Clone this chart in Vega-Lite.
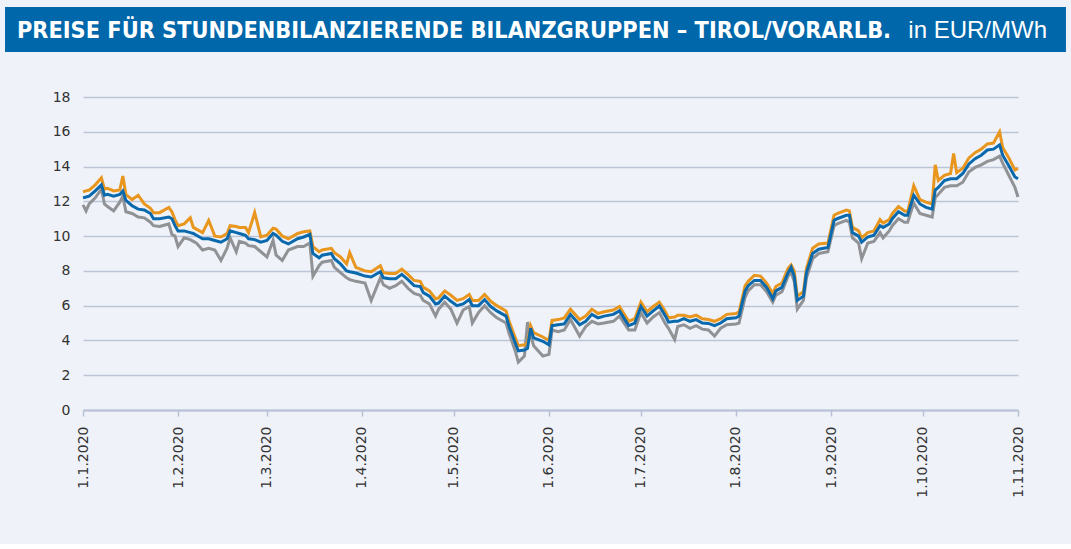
{
  "$schema": "https://vega.github.io/schema/vega-lite/v6.json",
  "background": "#EFF2F8",
  "padding": {"left": 5, "top": 7, "right": 5, "bottom": 46},
  "spacing": 38,
  "config": {
    "view": {"stroke": null},
    "axis": {"labelFont": "DejaVu Sans", "labelFontSize": 14, "labelColor": "#333333", "titleFont": "DejaVu Sans"}
  },
  "vconcat": [
    {
      "width": 935,
      "height": 45,
      "data": {"values": [{"titel": "PREISE FÜR STUNDENBILANZIERENDE BILANZGRUPPEN – TIROL/VORARLB.", "einheit": "in EUR/MWh"}]},
      "layer": [
        {
          "mark": {"type": "rect", "color": "#0067AA"},
          "encoding": {
            "x": {"datum": -0.0834, "type": "quantitative", "scale": {"domain": [0, 1], "nice": false, "zero": false}, "axis": null},
            "x2": {"datum": 1.0513}
          }
        },
        {
          "mark": {"type": "text", "align": "left", "baseline": "middle", "dy": 1, "font": "DejaVu Sans Condensed", "fontWeight": "bold", "fontSize": 23.3, "color": "white"},
          "encoding": {
            "x": {"datum": -0.0706, "type": "quantitative"},
            "text": {"field": "titel"}
          }
        },
        {
          "mark": {"type": "text", "align": "right", "baseline": "middle", "dy": 1, "font": "Liberation Sans", "fontSize": 24, "color": "white"},
          "encoding": {
            "x": {"datum": 1.031, "type": "quantitative"},
            "text": {"field": "einheit"}
          }
        }
      ]
    },
    {
      "width": 935,
      "height": 313,
      "data": {"values": [
        {"d":"2020-01-01","mittel":12.2,"hoch":12.55,"niedrig":11.8},
        {"d":"2020-01-02","mittel":12.25,"hoch":12.6,"niedrig":11.45},
        {"d":"2020-01-03","mittel":12.3,"hoch":12.65,"niedrig":11.85},
        {"d":"2020-01-05","mittel":12.6,"hoch":12.95,"niedrig":12.2},
        {"d":"2020-01-07","mittel":12.95,"hoch":13.35,"niedrig":12.7},
        {"d":"2020-01-08","mittel":12.35,"hoch":12.7,"niedrig":11.85},
        {"d":"2020-01-09","mittel":12.4,"hoch":12.75,"niedrig":11.7},
        {"d":"2020-01-11","mittel":12.3,"hoch":12.6,"niedrig":11.45},
        {"d":"2020-01-13","mittel":12.4,"hoch":12.65,"niedrig":11.95},
        {"d":"2020-01-14","mittel":12.6,"hoch":13.45,"niedrig":12.3},
        {"d":"2020-01-15","mittel":12.05,"hoch":12.4,"niedrig":11.4},
        {"d":"2020-01-17","mittel":11.75,"hoch":12.1,"niedrig":11.3},
        {"d":"2020-01-19","mittel":11.55,"hoch":12.35,"niedrig":11.1},
        {"d":"2020-01-21","mittel":11.5,"hoch":11.85,"niedrig":11.05},
        {"d":"2020-01-23","mittel":11.3,"hoch":11.6,"niedrig":10.8},
        {"d":"2020-01-24","mittel":11.0,"hoch":11.35,"niedrig":10.6},
        {"d":"2020-01-26","mittel":11.0,"hoch":11.35,"niedrig":10.55},
        {"d":"2020-01-29","mittel":11.1,"hoch":11.65,"niedrig":10.7},
        {"d":"2020-01-30","mittel":11.0,"hoch":11.4,"niedrig":10.1},
        {"d":"2020-01-31","mittel":10.6,"hoch":10.95,"niedrig":10.0},
        {"d":"2020-02-01","mittel":10.3,"hoch":10.6,"niedrig":9.4},
        {"d":"2020-02-03","mittel":10.3,"hoch":10.7,"niedrig":9.9},
        {"d":"2020-02-05","mittel":10.2,"hoch":11.05,"niedrig":9.8},
        {"d":"2020-02-06","mittel":10.15,"hoch":10.5,"niedrig":9.7},
        {"d":"2020-02-07","mittel":10.05,"hoch":10.4,"niedrig":9.6},
        {"d":"2020-02-09","mittel":9.85,"hoch":10.2,"niedrig":9.2},
        {"d":"2020-02-11","mittel":9.85,"hoch":10.9,"niedrig":9.3},
        {"d":"2020-02-13","mittel":9.75,"hoch":10.0,"niedrig":9.2},
        {"d":"2020-02-15","mittel":9.65,"hoch":9.95,"niedrig":8.6},
        {"d":"2020-02-17","mittel":9.85,"hoch":10.15,"niedrig":9.3},
        {"d":"2020-02-18","mittel":10.3,"hoch":10.6,"niedrig":9.9},
        {"d":"2020-02-20","mittel":10.2,"hoch":10.55,"niedrig":9.1},
        {"d":"2020-02-21","mittel":10.15,"hoch":10.5,"niedrig":9.7},
        {"d":"2020-02-23","mittel":10.05,"hoch":10.5,"niedrig":9.6},
        {"d":"2020-02-24","mittel":9.85,"hoch":10.2,"niedrig":9.45},
        {"d":"2020-02-26","mittel":9.8,"hoch":11.35,"niedrig":9.4},
        {"d":"2020-02-28","mittel":9.65,"hoch":9.95,"niedrig":9.1},
        {"d":"2020-03-01","mittel":9.75,"hoch":10.05,"niedrig":8.8},
        {"d":"2020-03-03","mittel":10.15,"hoch":10.45,"niedrig":9.75},
        {"d":"2020-03-04","mittel":10.05,"hoch":10.4,"niedrig":8.9},
        {"d":"2020-03-06","mittel":9.7,"hoch":10.0,"niedrig":8.6},
        {"d":"2020-03-08","mittel":9.55,"hoch":9.85,"niedrig":9.2},
        {"d":"2020-03-11","mittel":9.85,"hoch":10.15,"niedrig":9.4},
        {"d":"2020-03-13","mittel":9.95,"hoch":10.25,"niedrig":9.4},
        {"d":"2020-03-15","mittel":10.1,"hoch":10.3,"niedrig":9.6},
        {"d":"2020-03-16","mittel":9.0,"hoch":9.4,"niedrig":7.7},
        {"d":"2020-03-18","mittel":8.75,"hoch":9.1,"niedrig":8.3},
        {"d":"2020-03-19","mittel":8.9,"hoch":9.2,"niedrig":8.5},
        {"d":"2020-03-22","mittel":9.0,"hoch":9.3,"niedrig":8.6},
        {"d":"2020-03-23","mittel":8.7,"hoch":9.05,"niedrig":8.2},
        {"d":"2020-03-25","mittel":8.4,"hoch":8.8,"niedrig":7.9},
        {"d":"2020-03-27","mittel":8.0,"hoch":8.4,"niedrig":7.6},
        {"d":"2020-03-28","mittel":7.95,"hoch":9.05,"niedrig":7.5},
        {"d":"2020-03-30","mittel":7.88,"hoch":8.2,"niedrig":7.4},
        {"d":"2020-04-02","mittel":7.7,"hoch":8.0,"niedrig":7.3},
        {"d":"2020-04-04","mittel":7.65,"hoch":7.95,"niedrig":6.3},
        {"d":"2020-04-07","mittel":7.95,"hoch":8.3,"niedrig":7.6},
        {"d":"2020-04-08","mittel":7.6,"hoch":7.9,"niedrig":7.2},
        {"d":"2020-04-10","mittel":7.55,"hoch":7.85,"niedrig":7.0},
        {"d":"2020-04-12","mittel":7.55,"hoch":7.85,"niedrig":7.15},
        {"d":"2020-04-14","mittel":7.8,"hoch":8.1,"niedrig":7.4},
        {"d":"2020-04-16","mittel":7.5,"hoch":7.8,"niedrig":7.0},
        {"d":"2020-04-18","mittel":7.15,"hoch":7.45,"niedrig":6.7},
        {"d":"2020-04-20","mittel":7.1,"hoch":7.4,"niedrig":6.6},
        {"d":"2020-04-21","mittel":6.75,"hoch":7.05,"niedrig":6.3},
        {"d":"2020-04-23","mittel":6.55,"hoch":6.85,"niedrig":6.1},
        {"d":"2020-04-25","mittel":6.1,"hoch":6.4,"niedrig":5.4},
        {"d":"2020-04-26","mittel":6.15,"hoch":6.45,"niedrig":5.8},
        {"d":"2020-04-28","mittel":6.55,"hoch":6.85,"niedrig":6.2},
        {"d":"2020-04-30","mittel":6.25,"hoch":6.6,"niedrig":5.8},
        {"d":"2020-05-02","mittel":6.0,"hoch":6.3,"niedrig":5.0},
        {"d":"2020-05-04","mittel":6.1,"hoch":6.4,"niedrig":5.75},
        {"d":"2020-05-06","mittel":6.35,"hoch":6.65,"niedrig":5.95},
        {"d":"2020-05-07","mittel":6.0,"hoch":6.3,"niedrig":5.0},
        {"d":"2020-05-09","mittel":6.0,"hoch":6.3,"niedrig":5.6},
        {"d":"2020-05-11","mittel":6.35,"hoch":6.65,"niedrig":6.0},
        {"d":"2020-05-13","mittel":5.95,"hoch":6.25,"niedrig":5.6},
        {"d":"2020-05-15","mittel":5.7,"hoch":6.0,"niedrig":5.3},
        {"d":"2020-05-18","mittel":5.4,"hoch":5.7,"niedrig":5.0},
        {"d":"2020-05-19","mittel":4.8,"hoch":5.1,"niedrig":4.4},
        {"d":"2020-05-21","mittel":3.85,"hoch":4.15,"niedrig":3.4},
        {"d":"2020-05-22","mittel":3.4,"hoch":3.7,"niedrig":2.75},
        {"d":"2020-05-24","mittel":3.45,"hoch":3.75,"niedrig":3.1},
        {"d":"2020-05-25","mittel":3.55,"hoch":3.85,"niedrig":5.05},
        {"d":"2020-05-26","mittel":4.7,"hoch":4.85,"niedrig":4.3},
        {"d":"2020-05-27","mittel":4.15,"hoch":4.45,"niedrig":3.7},
        {"d":"2020-05-30","mittel":3.95,"hoch":4.2,"niedrig":3.1},
        {"d":"2020-06-01","mittel":3.75,"hoch":4.0,"niedrig":3.2},
        {"d":"2020-06-02","mittel":4.85,"hoch":5.15,"niedrig":4.6},
        {"d":"2020-06-04","mittel":4.9,"hoch":5.2,"niedrig":4.5},
        {"d":"2020-06-06","mittel":4.95,"hoch":5.3,"niedrig":4.6},
        {"d":"2020-06-08","mittel":5.5,"hoch":5.8,"niedrig":5.2},
        {"d":"2020-06-11","mittel":4.9,"hoch":5.2,"niedrig":4.25},
        {"d":"2020-06-13","mittel":5.1,"hoch":5.4,"niedrig":4.8},
        {"d":"2020-06-15","mittel":5.5,"hoch":5.8,"niedrig":5.1},
        {"d":"2020-06-17","mittel":5.3,"hoch":5.55,"niedrig":4.95},
        {"d":"2020-06-19","mittel":5.4,"hoch":5.65,"niedrig":5.0},
        {"d":"2020-06-22","mittel":5.5,"hoch":5.75,"niedrig":5.1},
        {"d":"2020-06-24","mittel":5.7,"hoch":5.95,"niedrig":5.4},
        {"d":"2020-06-27","mittel":4.85,"hoch":5.1,"niedrig":4.6},
        {"d":"2020-06-29","mittel":5.0,"hoch":5.25,"niedrig":4.6},
        {"d":"2020-07-01","mittel":5.95,"hoch":6.2,"niedrig":5.6},
        {"d":"2020-07-03","mittel":5.4,"hoch":5.65,"niedrig":5.0},
        {"d":"2020-07-05","mittel":5.7,"hoch":5.95,"niedrig":5.35},
        {"d":"2020-07-07","mittel":5.98,"hoch":6.2,"niedrig":5.6},
        {"d":"2020-07-09","mittel":5.4,"hoch":5.65,"niedrig":4.95},
        {"d":"2020-07-10","mittel":5.05,"hoch":5.3,"niedrig":4.7},
        {"d":"2020-07-12","mittel":5.1,"hoch":5.35,"niedrig":4.05},
        {"d":"2020-07-13","mittel":5.1,"hoch":5.45,"niedrig":4.8},
        {"d":"2020-07-15","mittel":5.25,"hoch":5.45,"niedrig":4.9},
        {"d":"2020-07-17","mittel":5.1,"hoch":5.35,"niedrig":4.7},
        {"d":"2020-07-19","mittel":5.2,"hoch":5.45,"niedrig":4.85},
        {"d":"2020-07-21","mittel":5.0,"hoch":5.25,"niedrig":4.65},
        {"d":"2020-07-23","mittel":4.98,"hoch":5.2,"niedrig":4.6},
        {"d":"2020-07-25","mittel":4.85,"hoch":5.1,"niedrig":4.25},
        {"d":"2020-07-27","mittel":5.0,"hoch":5.25,"niedrig":4.7},
        {"d":"2020-07-29","mittel":5.25,"hoch":5.5,"niedrig":4.9},
        {"d":"2020-08-01","mittel":5.3,"hoch":5.55,"niedrig":4.95},
        {"d":"2020-08-02","mittel":5.4,"hoch":5.65,"niedrig":5.0},
        {"d":"2020-08-04","mittel":6.85,"hoch":7.15,"niedrig":6.5},
        {"d":"2020-08-05","mittel":7.15,"hoch":7.4,"niedrig":6.85},
        {"d":"2020-08-07","mittel":7.45,"hoch":7.75,"niedrig":7.2},
        {"d":"2020-08-09","mittel":7.45,"hoch":7.7,"niedrig":7.2},
        {"d":"2020-08-11","mittel":7.05,"hoch":7.3,"niedrig":6.8},
        {"d":"2020-08-13","mittel":6.4,"hoch":6.7,"niedrig":6.2},
        {"d":"2020-08-14","mittel":6.85,"hoch":7.1,"niedrig":6.6},
        {"d":"2020-08-16","mittel":7.05,"hoch":7.3,"niedrig":6.8},
        {"d":"2020-08-18","mittel":7.9,"hoch":8.15,"niedrig":7.7},
        {"d":"2020-08-19","mittel":8.2,"hoch":8.35,"niedrig":7.9},
        {"d":"2020-08-20","mittel":7.7,"hoch":8.0,"niedrig":7.4},
        {"d":"2020-08-21","mittel":6.3,"hoch":6.55,"niedrig":5.8},
        {"d":"2020-08-23","mittel":6.55,"hoch":6.8,"niedrig":6.3},
        {"d":"2020-08-24","mittel":7.9,"hoch":8.15,"niedrig":7.6},
        {"d":"2020-08-26","mittel":9.0,"hoch":9.3,"niedrig":8.7},
        {"d":"2020-08-28","mittel":9.25,"hoch":9.55,"niedrig":9.0},
        {"d":"2020-08-31","mittel":9.35,"hoch":9.6,"niedrig":9.1},
        {"d":"2020-09-02","mittel":10.9,"hoch":11.2,"niedrig":10.6},
        {"d":"2020-09-03","mittel":11.0,"hoch":11.3,"niedrig":10.7},
        {"d":"2020-09-06","mittel":11.2,"hoch":11.5,"niedrig":10.9},
        {"d":"2020-09-07","mittel":11.2,"hoch":11.45,"niedrig":10.8},
        {"d":"2020-09-08","mittel":10.2,"hoch":10.5,"niedrig":9.9},
        {"d":"2020-09-10","mittel":10.0,"hoch":10.3,"niedrig":9.6},
        {"d":"2020-09-11","mittel":9.65,"hoch":9.9,"niedrig":8.7},
        {"d":"2020-09-13","mittel":9.95,"hoch":10.2,"niedrig":9.6},
        {"d":"2020-09-15","mittel":10.05,"hoch":10.3,"niedrig":9.7},
        {"d":"2020-09-17","mittel":10.6,"hoch":10.95,"niedrig":10.2},
        {"d":"2020-09-18","mittel":10.5,"hoch":10.75,"niedrig":9.9},
        {"d":"2020-09-20","mittel":10.7,"hoch":10.95,"niedrig":10.3},
        {"d":"2020-09-21","mittel":11.0,"hoch":11.3,"niedrig":10.6},
        {"d":"2020-09-23","mittel":11.4,"hoch":11.7,"niedrig":11.0},
        {"d":"2020-09-25","mittel":11.2,"hoch":11.45,"niedrig":10.8},
        {"d":"2020-09-26","mittel":11.2,"hoch":11.4,"niedrig":10.8},
        {"d":"2020-09-28","mittel":12.35,"hoch":12.9,"niedrig":11.9},
        {"d":"2020-09-30","mittel":11.85,"hoch":12.1,"niedrig":11.3},
        {"d":"2020-10-02","mittel":11.65,"hoch":11.95,"niedrig":11.2},
        {"d":"2020-10-04","mittel":11.55,"hoch":11.85,"niedrig":11.1},
        {"d":"2020-10-05","mittel":12.65,"hoch":14.1,"niedrig":12.2},
        {"d":"2020-10-06","mittel":12.8,"hoch":13.2,"niedrig":12.4},
        {"d":"2020-10-08","mittel":13.2,"hoch":13.5,"niedrig":12.8},
        {"d":"2020-10-10","mittel":13.3,"hoch":13.6,"niedrig":12.9},
        {"d":"2020-10-11","mittel":13.3,"hoch":14.75,"niedrig":12.9},
        {"d":"2020-10-12","mittel":13.3,"hoch":13.65,"niedrig":12.9},
        {"d":"2020-10-14","mittel":13.6,"hoch":13.9,"niedrig":13.1},
        {"d":"2020-10-16","mittel":14.15,"hoch":14.5,"niedrig":13.7},
        {"d":"2020-10-18","mittel":14.45,"hoch":14.8,"niedrig":13.95},
        {"d":"2020-10-20","mittel":14.65,"hoch":15.0,"niedrig":14.1},
        {"d":"2020-10-22","mittel":14.95,"hoch":15.3,"niedrig":14.3},
        {"d":"2020-10-24","mittel":15.0,"hoch":15.35,"niedrig":14.4},
        {"d":"2020-10-26","mittel":15.25,"hoch":16.0,"niedrig":14.6},
        {"d":"2020-10-27","mittel":14.65,"hoch":15.1,"niedrig":14.2},
        {"d":"2020-10-29","mittel":14.05,"hoch":14.5,"niedrig":13.5},
        {"d":"2020-10-31","mittel":13.4,"hoch":13.8,"niedrig":12.8},
        {"d":"2020-11-01","mittel":13.3,"hoch":13.9,"niedrig":12.25}
      ]},
      "transform": [{"fold": ["niedrig", "hoch", "mittel"], "as": ["serie", "wert"]}],
      "mark": {"type": "line", "strokeWidth": 3},
      "encoding": {
        "x": {
          "field": "d", "type": "temporal",
          "scale": {"type": "utc", "domain": [{"year": 2020, "month": 1, "date": 1, "utc": true}, {"year": 2020, "month": 11, "date": 1, "utc": true}]},
          "axis": {
            "title": null, "labelExpr": "utcFormat(datum.value, '%-d.%-m.%Y')",
            "tickCount": {"interval": "month", "step": 1},
            "labelAngle": -90, "labelPadding": 10, "labelFlush": false, "labelOverlap": false, "grid": false,
            "domainColor": "#B8C2D6", "domainWidth": 2, "tickColor": "#B8C2D6", "tickWidth": 1.5, "tickSize": 6
          }
        },
        "y": {
          "field": "wert", "type": "quantitative",
          "scale": {"domain": [0, 18], "nice": false},
          "axis": {"title": null, "values": [0, 2, 4, 6, 8, 10, 12, 14, 16, 18], "domain": false, "ticks": false, "labelPadding": 13, "minExtent": 78, "maxExtent": 78, "gridColor": "#BCC5D7", "gridWidth": 1.5}
        },
        "color": {
          "field": "serie", "type": "nominal",
          "scale": {"domain": ["niedrig", "hoch", "mittel"], "range": ["#909295", "#E8961E", "#0A69AD"]},
          "legend": null
        }
      }
    }
  ]
}
